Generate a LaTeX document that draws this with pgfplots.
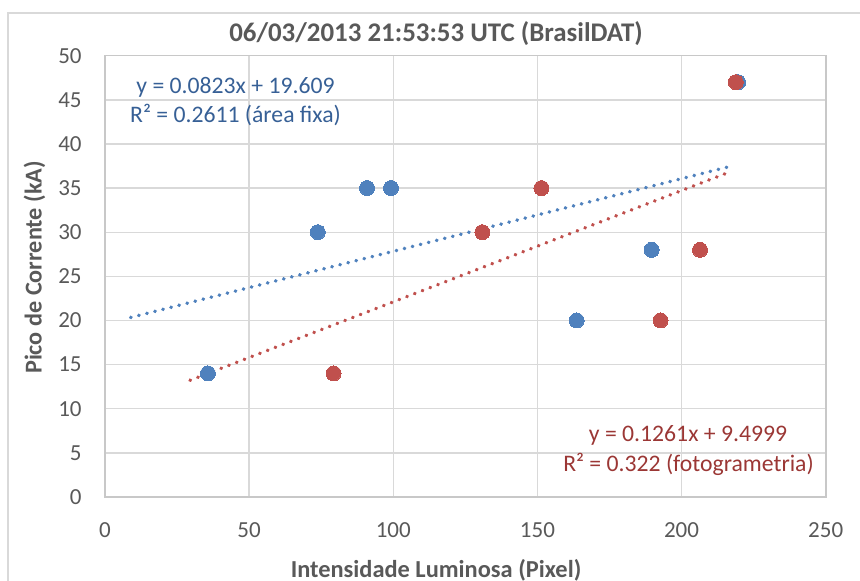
\documentclass[border=0pt]{standalone}
\usepackage{fontspec}
\setmainfont{Carlito}
\usepackage{pgfplots}
\pgfplotsset{compat=1.18}
\definecolor{bluept}{RGB}{79,129,189}
\definecolor{redpt}{RGB}{192,80,77}
\definecolor{bluetxt}{RGB}{55,96,150}
\definecolor{redtxt}{RGB}{155,55,53}
\definecolor{txtgray}{RGB}{89,89,89}
\definecolor{gridgray}{RGB}{217,217,217}
\definecolor{axgray}{RGB}{200,200,200}
\begin{document}
\begin{tikzpicture}
\useasboundingbox (0,0) rectangle (430pt,290.5pt);
\draw[gridgray, line width=0.8pt] (4pt,-5pt) -- (4pt,284pt) -- (440pt,284pt);
\begin{axis}[at={(52.5pt,42pt)}, anchor=south west, scale only axis,
  width=360.35pt, height=220.65pt,
  xmin=0, xmax=250, ymin=0, ymax=50,
  xtick={0,50,...,250}, ytick={0,5,...,50},
  grid=major, major grid style={gridgray, line width=0.7pt},
  axis line style={axgray, line width=0.8pt},
  tick style={draw=none}, major tick length=0pt,
  ticklabel style={font=\fontsize{11.5}{13}\selectfont, text=txtgray, inner sep=0pt},
  xticklabel style={anchor=center, yshift=-16.5pt},
  yticklabel style={anchor=east, xshift=-11.5pt},
  /pgf/number format/assume math mode=true,
]
\addplot[only marks, color=bluept, mark=*, mark size=3.75pt, mark options={fill=bluept, draw=bluept, line width=0pt}] coordinates {
(35.7,14) (73.8,30) (90.9,35) (99.2,35) (163.6,20) (189.6,28) (219.6,47)};
\addplot[only marks, color=redpt, mark=*, mark size=3.75pt, mark options={fill=redpt, draw=redpt, line width=0pt}] coordinates {
(79.3,14) (130.9,30) (151.4,35) (192.7,20) (206.4,28) (218.8,47)};
\addplot[bluept, line width=1.8pt, line cap=round, dash pattern=on 0.2pt off 3.95pt] coordinates {(8.9,20.34) (217.4,37.50)};
\addplot[redpt, line width=1.8pt, line cap=round, dash pattern=on 0.2pt off 3.95pt] coordinates {(29.5,13.22) (216.2,36.76)};
\end{axis}
\node[anchor=base, text=txtgray, font=\fontsize{13.45}{15}\selectfont\bfseries] at (218pt,269.5pt) {06/03/2013 21:53:53 UTC (BrasilDAT)};
\node[anchor=base, text=txtgray, font=\fontsize{12.2}{14}\selectfont\bfseries] at (218pt,1.85pt) {Intensidade Luminosa (Pixel)};
\node[anchor=base, rotate=90, text=txtgray, font=\fontsize{12.1}{14}\selectfont\bfseries] at (20.85pt,156.75pt) {Pico de Corrente (kA)};
\node[anchor=base, inner sep=0pt, text=bluetxt, font=\fontsize{11.85}{13}\selectfont] at (117.75pt,243.85pt) {y = 0.0823x + 19.609};
\node[anchor=base, inner sep=0pt, text=bluetxt, font=\fontsize{11.85}{13}\selectfont] at (117.75pt,229.3pt) {R² = 0.2611 (área fixa)};
\node[anchor=base, inner sep=0pt, text=redtxt, font=\fontsize{11.85}{13}\selectfont] at (344pt,69.65pt) {y = 0.1261x + 9.4999};
\node[anchor=base, inner sep=0pt, text=redtxt, font=\fontsize{11.85}{13}\selectfont] at (344.25pt,54.65pt) {R² = 0.322 (fotogrametria)};
\end{tikzpicture}
\end{document}
